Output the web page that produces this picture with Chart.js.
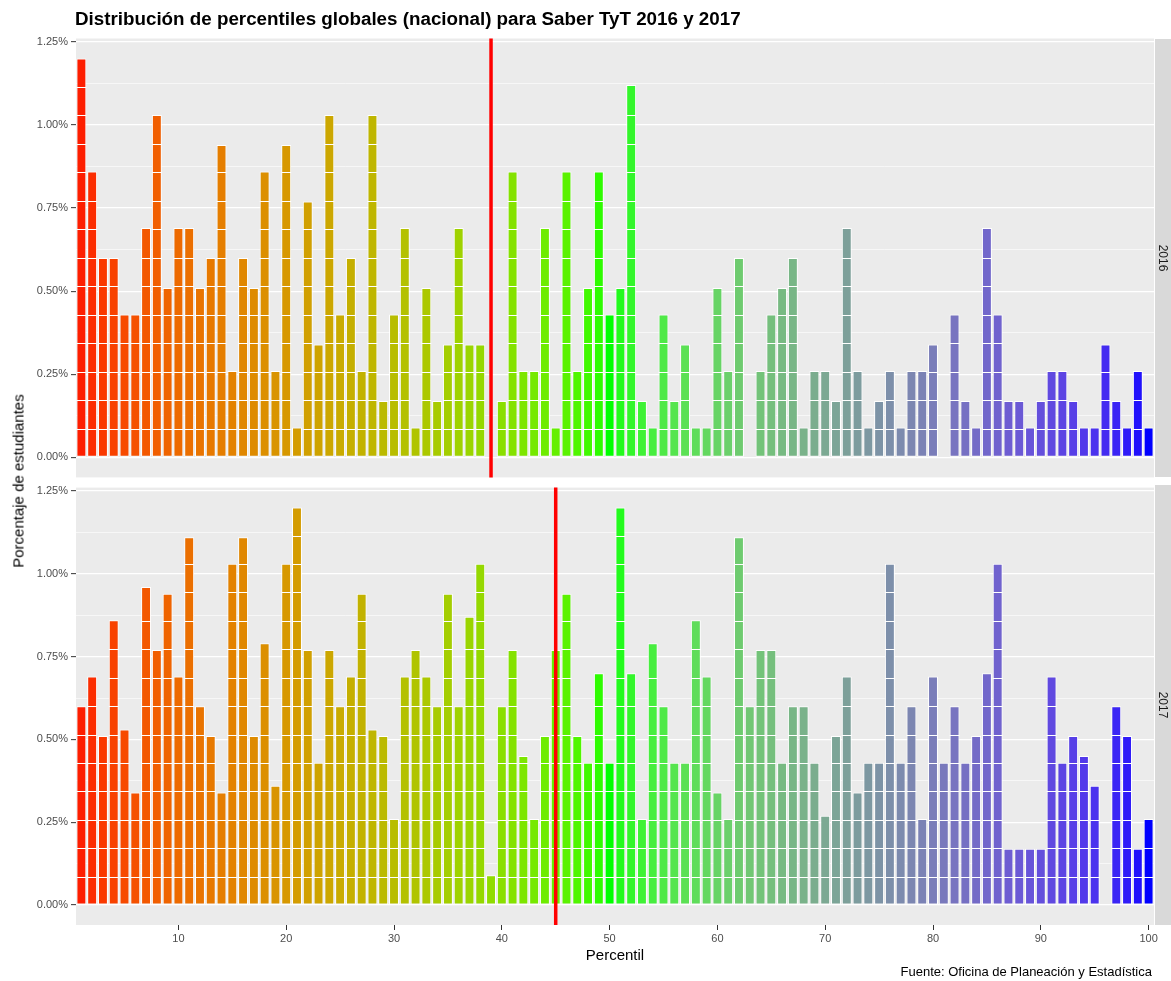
<!DOCTYPE html>
<html lang="es">
<head>
  <meta charset="UTF-8" />
  <title>Distribución de percentiles globales (nacional) para Saber TyT 2016 y 2017</title>
  <script src="https://cdn.jsdelivr.net/npm/chart.js"></script>
  <style>
    body {
      margin: 0;
      background: #fff;
      font-family: "Liberation Sans", Arial, sans-serif;
    }
    .page {
      position: relative;
      width: 1171px;
      height: 981px;
      overflow: hidden;
    }
    canvas { position: absolute; left: 0; }
    #chart2016 { top: 0; }
    #chart2017 { top: 478px; }
    .title {
      position: absolute;
      left: 75px;
      top: 10px;
      font-size: 18.8px;
      line-height: 1;
      font-weight: bold;
      color: #000;
      white-space: nowrap;
    }
    .ytitle, .xtitle, .strip-label {
      position: absolute;
      line-height: 1;
      white-space: nowrap;
      transform-origin: center;
    }
    .ytitle {
      left: 18px;
      top: 481px;
      font-size: 15px;
      transform: translate(-50%, -50%) rotate(-90deg);
    }
    .xtitle {
      left: 615px;
      top: 954px;
      font-size: 15px;
      transform: translate(-50%, -50%);
    }
    .caption {
      position: absolute;
      right: 19px;
      top: 965px;
      font-size: 13px;
      line-height: 1;
      white-space: nowrap;
    }
    .strip {
      position: absolute;
      left: 1155px;
      width: 16px;
      background: #d9d9d9;
    }
    .strip-label {
      left: 1163px;
      font-size: 12px;
      color: #1a1a1a;
      transform: translate(-50%, -50%) rotate(90deg);
    }
  </style>
</head>
<body>
  <div class="page">
    <canvas id="chart2016" width="1171" height="487"></canvas>
    <canvas id="chart2017" width="1171" height="503"></canvas>

    <div class="title">Distribución de percentiles globales (nacional) para Saber TyT 2016 y 2017</div>
    <div class="ytitle">Porcentaje de estudiantes</div>
    <div class="xtitle">Percentil</div>
    <div class="caption">Fuente: Oficina de Planeación y Estadística</div>

    <div class="strip" style="top: 38.5px; height: 438.5px;"></div>
    <div class="strip" style="top: 485px; height: 440px;"></div>
    <div class="strip-label" style="top: 258px;">2016</div>
    <div class="strip-label" style="top: 705px;">2017</div>
  </div>

  <script>
    // percentil 1..100
    const percentiles = Array.from({ length: 100 }, (_, i) => i + 1);

    // % de estudiantes por percentil, 2016
    const pct2016 = [
      1.20, 0.86, 0.60, 0.60, 0.43, 0.43, 0.69, 1.03, 0.51, 0.69,
      0.69, 0.51, 0.60, 0.94, 0.26, 0.60, 0.51, 0.86, 0.26, 0.94,
      0.09, 0.77, 0.34, 1.03, 0.43, 0.60, 0.26, 1.03, 0.17, 0.43,
      0.69, 0.09, 0.51, 0.17, 0.34, 0.69, 0.34, 0.34, 0.00, 0.17,
      0.86, 0.26, 0.26, 0.69, 0.09, 0.86, 0.26, 0.51, 0.86, 0.43,
      0.51, 1.12, 0.17, 0.09, 0.43, 0.17, 0.34, 0.09, 0.09, 0.51,
      0.26, 0.60, 0.00, 0.26, 0.43, 0.51, 0.60, 0.09, 0.26, 0.26,
      0.17, 0.69, 0.26, 0.09, 0.17, 0.26, 0.09, 0.26, 0.26, 0.34,
      0.00, 0.43, 0.17, 0.09, 0.69, 0.43, 0.17, 0.17, 0.09, 0.17,
      0.26, 0.26, 0.17, 0.09, 0.09, 0.34, 0.17, 0.09, 0.26, 0.09
    ];

    // % de estudiantes por percentil, 2017
    const pct2017 = [
      0.60, 0.69, 0.51, 0.86, 0.53, 0.34, 0.96, 0.77, 0.94, 0.69,
      1.11, 0.60, 0.51, 0.34, 1.03, 1.11, 0.51, 0.79, 0.36, 1.03,
      1.20, 0.77, 0.43, 0.77, 0.60, 0.69, 0.94, 0.53, 0.51, 0.26,
      0.69, 0.77, 0.69, 0.60, 0.94, 0.60, 0.87, 1.03, 0.09, 0.60,
      0.77, 0.45, 0.26, 0.51, 0.77, 0.94, 0.51, 0.43, 0.70, 0.43,
      1.20, 0.70, 0.26, 0.79, 0.60, 0.43, 0.43, 0.86, 0.69, 0.34,
      0.26, 1.11, 0.60, 0.77, 0.77, 0.43, 0.60, 0.60, 0.43, 0.27,
      0.51, 0.69, 0.34, 0.43, 0.43, 1.03, 0.43, 0.60, 0.26, 0.69,
      0.43, 0.60, 0.43, 0.51, 0.70, 1.03, 0.17, 0.17, 0.17, 0.17,
      0.69, 0.43, 0.51, 0.45, 0.36, 0.00, 0.60, 0.51, 0.17, 0.26
    ];

    // percentil marcado con la linea roja
    const marker2016 = 39;
    const marker2017 = 45;

    // each student is one stacked block of this height (in %)
    const blockSize = 0.0858;

    const xTickLabels = [10, 20, 30, 40, 50, 60, 70, 80, 90, 100];
    const yMajorTicks = [0, 0.25, 0.5, 0.75, 1.0, 1.25];
    const yMinorTicks = [0.125, 0.375, 0.625, 0.875, 1.125];
    const yTickLabels = ['0.00%', '0.25%', '0.50%', '0.75%', '1.00%', '1.25%'];
    const yLimits = [-0.06, 1.26];

    // red -> green -> blue, interpolated in Lab like ggplot's gradient2
    const gradientStops = ['#FF0000', '#00FF00', '#0000FF'];
    const gradientMid = 50;

    function toLinear(c) { c /= 255; return c <= 0.04045 ? c / 12.92 : Math.pow((c + 0.055) / 1.055, 2.4); }
    function fromLinear(c) {
      c = c <= 0.0031308 ? 12.92 * c : 1.055 * Math.pow(c, 1 / 2.4) - 0.055;
      return Math.round(Math.max(0, Math.min(1, c)) * 255);
    }
    function hexToLab(hex) {
      const r = toLinear(parseInt(hex.slice(1, 3), 16));
      const g = toLinear(parseInt(hex.slice(3, 5), 16));
      const b = toLinear(parseInt(hex.slice(5, 7), 16));
      const X = (0.4124 * r + 0.3576 * g + 0.1805 * b) / 0.95047;
      const Y = (0.2126 * r + 0.7152 * g + 0.0722 * b);
      const Z = (0.0193 * r + 0.1192 * g + 0.9505 * b) / 1.08883;
      const f = t => t > 0.008856 ? Math.cbrt(t) : 7.787 * t + 16 / 116;
      const fx = f(X), fy = f(Y), fz = f(Z);
      return [116 * fy - 16, 500 * (fx - fy), 200 * (fy - fz)];
    }
    function labToRgb(lab) {
      const fy = (lab[0] + 16) / 116, fx = fy + lab[1] / 500, fz = fy - lab[2] / 200;
      const inv = t => t * t * t > 0.008856 ? t * t * t : (t - 16 / 116) / 7.787;
      const X = inv(fx) * 0.95047, Y = inv(fy), Z = inv(fz) * 1.08883;
      const r = 3.2406 * X - 1.5372 * Y - 0.4986 * Z;
      const g = -0.9689 * X + 1.8758 * Y + 0.0415 * Z;
      const b = 0.0557 * X - 0.2040 * Y + 1.0570 * Z;
      return 'rgb(' + fromLinear(r) + ',' + fromLinear(g) + ',' + fromLinear(b) + ')';
    }
    const stopsLab = gradientStops.map(hexToLab);
    function colourFor(p) {
      const span = Math.max(Math.abs(percentiles[0] - gradientMid), Math.abs(percentiles[percentiles.length - 1] - gradientMid));
      const t = 0.5 + (p - gradientMid) / span / 2;
      const [a, b, u] = t < 0.5 ? [stopsLab[0], stopsLab[1], t / 0.5] : [stopsLab[1], stopsLab[2], (t - 0.5) / 0.5];
      return labToRgb(a.map((v, i) => v + (b[i] - v) * u));
    }
    const barColours = percentiles.map(colourFor);

    Chart.defaults.font.family = '"Liberation Sans", Arial, sans-serif';

    const panelDeco = {
      id: 'panelDeco',
      beforeDraw(chart) {
        const a = chart.chartArea, ctx = chart.ctx;
        ctx.save();
        ctx.fillStyle = '#ebebeb';
        ctx.fillRect(a.left, a.top, a.right - a.left, a.bottom - a.top);
        ctx.restore();
      },
      afterDatasetsDraw(chart, args, opts) {
        const ctx = chart.ctx, y = chart.scales.y, a = chart.chartArea;
        const meta = chart.getDatasetMeta(0);
        const values = chart.data.datasets[0].data;
        ctx.save();
        ctx.strokeStyle = '#fff';
        ctx.lineWidth = 1;
        meta.data.forEach((bar, i) => {
          const half = bar.width / 2;
          for (let k = blockSize; k < values[i] - 0.02; k += blockSize) {
            const py = Math.round(y.getPixelForValue(k)) + 0.5;
            ctx.beginPath();
            ctx.moveTo(bar.x - half, py);
            ctx.lineTo(bar.x + half, py);
            ctx.stroke();
          }
        });
        const mx = chart.scales.x.getPixelForValue(percentiles.indexOf(opts.marker));
        ctx.strokeStyle = '#ff0000';
        ctx.lineWidth = 3.5;
        ctx.beginPath();
        ctx.moveTo(mx, a.top);
        ctx.lineTo(mx, a.bottom);
        ctx.stroke();
        ctx.restore();
      }
    };

    function makePanel(id, values, marker, showX, padding) {
      return new Chart(document.getElementById(id), {
        type: 'bar',
        data: {
          labels: percentiles,
          datasets: [{
            data: values,
            backgroundColor: barColours,
            borderColor: '#ffffff',
            borderWidth: 1,
            borderSkipped: false,
            barPercentage: 0.92,
            categoryPercentage: 1
          }]
        },
        options: {
          responsive: false,
          animation: false,
          devicePixelRatio: 1,
          events: [],
          layout: { padding: padding },
          plugins: {
            legend: { display: false },
            tooltip: { enabled: false },
            panelDeco: { marker: marker }
          },
          scales: {
            x: {
              type: 'category',
              display: showX,
              offset: true,
              border: { display: false },
              grid: {
                drawOnChartArea: false,
                offset: false,
                tickLength: 5,
                tickWidth: 1,
                tickColor: c => xTickLabels.includes(percentiles[c.index]) ? '#333333' : 'rgba(0,0,0,0)'
              },
              ticks: {
                autoSkip: false,
                maxRotation: 0,
                padding: 2,
                color: '#4d4d4d',
                font: { size: 11 },
                callback: (v, i) => xTickLabels.includes(percentiles[i]) ? String(percentiles[i]) : ''
              },
              afterFit: s => { if (showX) s.height = 56; }
            },
            y: {
              min: yLimits[0],
              max: yLimits[1],
              border: { display: false },
              afterBuildTicks: s => {
                s.ticks = yMajorTicks.concat(yMinorTicks).sort((p, q) => p - q).map(v => ({ value: v }));
              },
              grid: {
                color: '#ffffff',
                lineWidth: c => (c.tick && yMajorTicks.includes(c.tick.value)) ? 1.3 : 0.6,
                tickLength: 5,
                tickWidth: 1,
                tickColor: c => (c.tick && yMajorTicks.includes(c.tick.value)) ? '#333333' : 'rgba(0,0,0,0)'
              },
              ticks: {
                autoSkip: false,
                padding: 3,
                color: '#4d4d4d',
                font: { size: 11 },
                callback: v => {
                  const i = yMajorTicks.indexOf(v);
                  return i >= 0 ? yTickLabels[i] : '';
                }
              },
              afterFit: s => { s.width = 76; }
            }
          }
        },
        plugins: [panelDeco]
      });
    }

    makePanel('chart2016', pct2016, marker2016, false, { top: 38.5, right: 17, bottom: 3, left: 0 });
    makePanel('chart2017', pct2017, marker2017, true, { top: 0, right: 17, bottom: 0, left: 0 });
  </script>
</body>
</html>
